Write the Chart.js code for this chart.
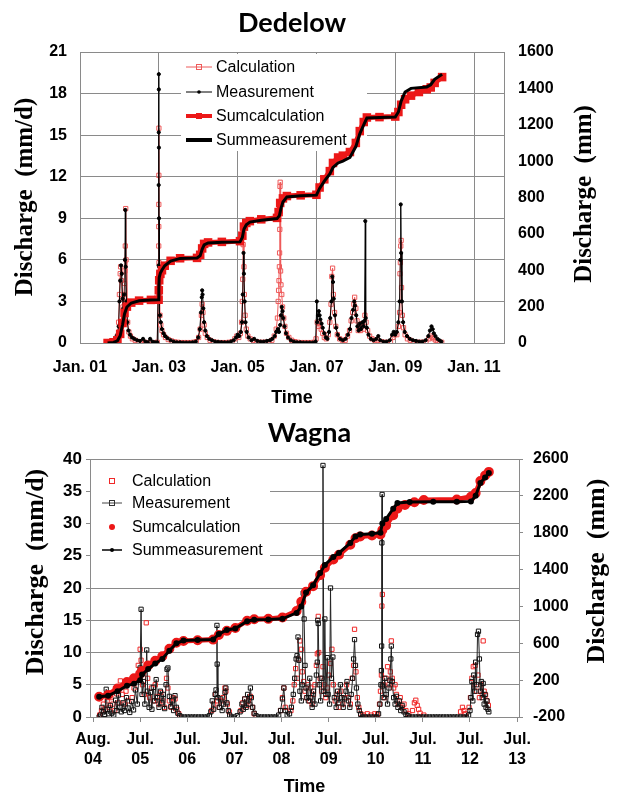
<!DOCTYPE html>
<html>
<head>
<meta charset="utf-8">
<title>Discharge Dedelow / Wagna</title>
<script src="https://cdn.jsdelivr.net/npm/chart.js@4.4.1/dist/chart.umd.min.js"></script>
<style>
  html, body { margin: 0; padding: 0; background: #fff; }
  #wrap { position: relative; width: 619px; height: 796px; }
  canvas { position: absolute; left: 0; }
  #dedelow { top: 0; }
  #wagna { top: 420px; }
</style>
</head>
<body>
<div id="wrap">
  <canvas id="dedelow" width="619" height="420"></canvas>
  <canvas id="wagna" width="619" height="376"></canvas>
</div>
<script>
// Discharge charts: daily values (mm/d, left axis) and cumulative sums (mm, right axis)

const seriesNames = ['Calculation', 'Measurement', 'Sumcalculation', 'Summeasurement'];

// ---------- Dedelow (x in decimal years) ----------
const dedXTicks = [2001, 2003, 2005, 2007, 2009, 2011];
const dedXLabels = ['Jan. 01', 'Jan. 03', 'Jan. 05', 'Jan. 07', 'Jan. 09', 'Jan. 11'];
const dedLeftTicks = [0, 3, 6, 9, 12, 15, 18, 21];
const dedRightTicks = [0, 200, 400, 600, 800, 1000, 1200, 1400, 1600];

const dedMeas = [
  [2001.72,0.05],[2001.78,0.1],[2001.84,0.2],[2001.9,0.4],[2001.95,0.6],[2001.98,1.2],[2002.0,3.0],[2002.02,4.5],
  [2002.04,5.6],[2002.06,5.0],[2002.08,3.2],[2002.1,2.5],[2002.12,3.5],[2002.14,6.0],[2002.15,9.6],[2002.16,5.5],
  [2002.18,3.0],[2002.2,1.5],[2002.23,0.9],[2002.27,0.6],[2002.32,0.4],[2002.38,0.3],[2002.45,0.2],[2002.52,0.15],
  [2002.6,0.3],[2002.66,0.1],[2002.72,0.05],[2002.78,0.3],[2002.84,0.1],[2002.9,0.05],[2002.96,0.05],
  [2002.995,5.6],[2002.997,11.4],[2002.999,15.2],[2003.0,19.4],[2003.001,18.3],[2003.003,14.1],[2003.005,9.0],
  [2003.008,5.5],[2003.015,3.5],[2003.03,2.0],[2003.05,1.5],[2003.08,1.0],[2003.12,0.7],[2003.16,0.5],[2003.22,0.35],
  [2003.3,0.2],[2003.38,0.1],[2003.46,0.05],[2003.54,0.05],[2003.62,0.03],[2003.7,0.03],[2003.78,0.03],[2003.86,0.05],
  [2003.94,0.1],[2004.0,0.4],[2004.04,1.0],[2004.07,2.2],[2004.09,3.3],[2004.1,3.8],[2004.11,3.5],[2004.13,2.5],
  [2004.15,1.5],[2004.18,0.9],[2004.22,0.5],[2004.28,0.3],[2004.35,0.2],[2004.43,0.1],[2004.51,0.08],[2004.59,0.06],
  [2004.67,0.05],[2004.75,0.05],[2004.83,0.1],[2004.9,0.2],[2004.96,0.4],[2005.0,0.6],[2005.04,0.5],[2005.08,0.8],
  [2005.11,1.5],[2005.13,3.5],[2005.15,6.5],[2005.16,5.0],[2005.18,3.0],[2005.2,1.5],[2005.23,0.8],[2005.28,0.4],
  [2005.35,0.2],[2005.42,0.3],[2005.5,0.15],[2005.58,0.1],[2005.66,0.1],[2005.74,0.15],[2005.82,0.2],[2005.88,0.3],
  [2005.94,0.5],[2005.98,0.8],[2006.02,1.0],[2006.05,0.8],[2006.08,1.3],[2006.1,2.0],[2006.12,2.6],[2006.14,2.3],
  [2006.16,1.8],[2006.19,1.2],[2006.23,0.7],[2006.28,0.4],[2006.35,0.2],[2006.43,0.1],[2006.51,0.05],[2006.59,0.05],
  [2006.67,0.03],[2006.75,0.03],[2006.83,0.03],[2006.91,0.03],[2006.98,0.1],[2007.01,3.0],[2007.02,1.5],[2007.04,2.0],
  [2007.06,2.3],[2007.08,2.0],[2007.1,1.7],[2007.13,1.4],[2007.16,1.1],[2007.2,0.7],[2007.24,0.4],[2007.28,0.3],
  [2007.32,0.8],[2007.35,1.8],[2007.38,3.0],[2007.4,4.8],[2007.42,4.4],[2007.44,3.2],[2007.47,2.0],[2007.5,1.1],
  [2007.54,0.6],[2007.6,0.3],[2007.67,0.2],[2007.74,0.3],[2007.8,0.6],[2007.85,1.0],[2007.89,1.8],[2007.93,2.4],
  [2007.96,3.0],[2007.98,2.7],[2008.01,2.0],[2008.04,1.2],[2008.07,0.9],[2008.1,1.4],[2008.13,1.0],[2008.17,1.5],
  [2008.2,1.2],[2008.22,1.6],[2008.24,8.8],[2008.25,1.8],[2008.28,1.1],[2008.32,0.6],[2008.38,0.3],[2008.45,0.2],
  [2008.52,0.3],[2008.57,0.5],[2008.62,0.2],[2008.7,0.1],[2008.78,0.1],[2008.86,0.2],[2008.92,0.6],[2008.96,0.8],
  [2009.0,0.6],[2009.04,0.8],[2009.08,1.5],[2009.11,3.0],[2009.13,6.0],[2009.14,10.0],[2009.15,6.5],[2009.17,3.0],
  [2009.2,1.5],[2009.24,0.8],[2009.3,0.5],[2009.37,0.3],[2009.45,0.2],[2009.53,0.15],[2009.61,0.1],[2009.69,0.1],
  [2009.77,0.2],[2009.84,0.5],[2009.88,0.9],[2009.92,1.2],[2009.95,1.0],[2009.98,0.7],[2010.02,0.5],[2010.07,0.3],
  [2010.12,0.2],[2010.17,0.1]
];

const dedCalc = [
  [2001.72,0.02],[2001.78,0.05],[2001.84,0.1],[2001.9,0.2],[2001.95,0.5],[2001.98,1.5],[2002.0,3.5],[2002.02,5.0],
  [2002.03,5.5],[2002.05,4.5],[2002.07,3.2],[2002.09,2.6],[2002.11,3.5],[2002.13,4.3],[2002.14,5.2],[2002.15,7.0],
  [2002.16,9.7],[2002.17,6.0],[2002.19,3.0],[2002.21,1.5],[2002.24,0.8],[2002.28,0.5],[2002.33,0.3],[2002.4,0.2],
  [2002.48,0.1],[2002.56,0.05],[2002.64,0.05],[2002.72,0.03],[2002.8,0.03],[2002.88,0.03],[2002.96,0.05],
  [2002.996,5.0],[2002.998,7.0],[2002.999,8.4],[2003.0,10.0],[2003.001,12.1],[2003.002,15.5],[2003.004,5.8],
  [2003.007,4.8],[2003.015,3.2],[2003.03,2.0],[2003.05,1.3],[2003.08,0.9],[2003.12,0.6],[2003.17,0.4],[2003.24,0.25],
  [2003.32,0.15],[2003.4,0.08],[2003.48,0.05],[2003.56,0.03],[2003.64,0.03],[2003.72,0.03],[2003.8,0.03],[2003.88,0.05],
  [2003.95,0.1],[2004.01,0.4],[2004.05,1.0],[2004.08,2.0],[2004.1,2.8],[2004.12,2.2],[2004.15,1.3],[2004.18,0.7],
  [2004.23,0.4],[2004.3,0.2],[2004.38,0.1],[2004.46,0.05],[2004.54,0.03],[2004.62,0.03],[2004.7,0.03],[2004.78,0.05],
  [2004.86,0.1],[2004.93,0.3],[2004.98,0.5],[2005.03,0.4],[2005.07,0.7],[2005.1,1.5],[2005.12,3.0],[2005.13,4.6],
  [2005.14,7.1],[2005.16,5.5],[2005.17,3.5],[2005.19,2.0],[2005.22,1.0],[2005.26,0.5],[2005.32,0.3],[2005.4,0.2],
  [2005.48,0.1],[2005.56,0.05],[2005.64,0.05],[2005.72,0.05],[2005.8,0.1],[2005.87,0.2],[2005.93,0.5],[2005.98,1.0],
  [2006.01,1.8],[2006.03,3.0],[2006.04,3.8],[2006.05,4.5],[2006.06,5.5],[2006.065,6.5],[2006.07,8.2],[2006.075,11.3],
  [2006.08,11.6],[2006.085,9.5],[2006.09,5.2],[2006.1,4.2],[2006.12,3.5],[2006.14,2.6],[2006.17,1.8],[2006.2,1.2],
  [2006.24,0.7],[2006.3,0.4],[2006.37,0.2],[2006.45,0.1],[2006.53,0.05],[2006.61,0.03],[2006.69,0.03],[2006.77,0.03],
  [2006.85,0.03],[2006.93,0.05],[2006.99,0.3],[2007.02,1.5],[2007.05,1.2],[2007.08,1.4],[2007.12,1.0],[2007.16,0.7],
  [2007.2,0.4],[2007.25,0.3],[2007.3,0.6],[2007.34,1.5],[2007.37,2.8],[2007.39,4.8],[2007.41,5.4],[2007.43,3.5],
  [2007.46,2.2],[2007.49,1.2],[2007.53,0.6],[2007.59,0.3],[2007.66,0.2],[2007.73,0.2],[2007.79,0.5],[2007.84,0.9],
  [2007.88,1.6],[2007.92,2.2],[2007.95,2.8],[2007.97,3.3],[2008.0,2.5],[2008.03,1.6],[2008.06,0.9],[2008.09,1.2],
  [2008.12,0.9],[2008.16,1.4],[2008.2,1.0],[2008.23,2.0],[2008.26,1.5],[2008.3,0.9],[2008.35,0.5],[2008.41,0.3],
  [2008.48,0.2],[2008.56,0.2],[2008.64,0.1],[2008.72,0.05],[2008.8,0.05],[2008.88,0.1],[2008.94,0.4],[2008.99,0.6],
  [2009.04,0.6],[2009.08,1.2],[2009.11,2.2],[2009.12,5.0],[2009.13,5.8],[2009.14,7.0],[2009.15,7.4],[2009.16,4.0],
  [2009.18,2.0],[2009.21,1.1],[2009.25,0.6],[2009.31,0.3],[2009.38,0.2],[2009.46,0.1],[2009.54,0.05],[2009.62,0.05],
  [2009.7,0.05],[2009.78,0.1],[2009.85,0.3],[2009.9,0.5],[2009.94,0.4],[2009.98,0.3],[2010.03,0.2],[2010.08,0.1],
  [2010.13,0.05],[2010.18,0.05]
];

const dedSumMeas = [
  [2001.70,0],[2001.85,3],[2001.95,12],[2002.02,40],[2002.08,100],[2002.13,160],[2002.19,198],[2002.3,220],
  [2002.5,232],[2002.8,237],[2002.995,238],[2003.0,300],[2003.01,360],[2003.04,385],[2003.08,401],[2003.15,425],
  [2003.3,450],[2003.54,465],[2003.97,467],[2004.05,480],[2004.1,515],[2004.15,540],[2004.25,550],[2004.6,554],
  [2005.06,556],[2005.12,580],[2005.16,625],[2005.22,650],[2005.31,665],[2005.6,675],[2006.0,684],[2006.06,700],
  [2006.1,740],[2006.15,775],[2006.25,803],[2006.6,810],[2007.0,813],[2007.08,850],[2007.2,890],[2007.34,930],
  [2007.42,965],[2007.55,990],[2007.67,1000],[2007.85,1020],[2008.0,1080],[2008.1,1150],[2008.2,1200],[2008.28,1237],
  [2008.6,1240],[2009.0,1242],[2009.08,1270],[2009.15,1330],[2009.25,1380],[2009.4,1400],[2009.8,1408],[2009.9,1420],
  [2010.0,1450],[2010.19,1478]
];

const dedSumCalc = [
  [2001.70,0],[2001.85,4],[2001.95,15],[2002.02,50],[2002.08,110],[2002.13,165],[2002.19,200],[2002.3,222],
  [2002.5,233],[2002.8,237],[2002.995,238],[2003.0,290],[2003.01,345],[2003.04,380],[2003.08,400],[2003.15,425],
  [2003.3,452],[2003.54,466],[2003.97,468],[2004.05,485],[2004.1,520],[2004.15,545],[2004.25,553],[2004.6,556],
  [2005.06,560],[2005.12,590],[2005.16,640],[2005.22,660],[2005.31,670],[2005.6,680],[2006.0,688],[2006.04,720],
  [2006.08,770],[2006.15,795],[2006.25,808],[2006.6,812],[2007.0,815],[2007.08,855],[2007.2,900],[2007.34,945],
  [2007.42,990],[2007.55,1020],[2007.67,1030],[2007.85,1050],[2008.0,1100],[2008.1,1165],[2008.2,1215],[2008.28,1240],
  [2008.6,1242],[2009.0,1245],[2009.08,1270],[2009.15,1310],[2009.25,1340],[2009.4,1360],[2009.6,1380],[2009.8,1395],
  [2009.9,1405],[2010.0,1430],[2010.19,1462]
];

// ---------- Wagna (x in decimal years, ticks one year apart from Aug. 2004) ----------
const wagXTicks = [2004.58, 2005.58, 2006.58, 2007.58, 2008.58, 2009.58, 2010.58, 2011.58, 2012.58, 2013.58];
const wagXLabels = [['Aug.', '04'], ['Jul.', '05'], ['Jul.', '06'], ['Jul.', '07'], ['Jul.', '08'],
                    ['Jul.', '09'], ['Jul.', '10'], ['Jul.', '11'], ['Jul.', '12'], ['Jul.', '13']];
const wagLeftTicks = [0, 5, 10, 15, 20, 25, 30, 35, 40];
const wagRightTicks = [-200, 200, 600, 1000, 1400, 1800, 2200, 2600];

const wagMeas = [
  [2004.71,0],[2004.74,0.3],[2004.77,1.5],[2004.8,0.8],[2004.83,0.4],[2004.86,4.3],[2004.88,1.2],[2004.91,0.5],
  [2004.95,1.8],[2004.98,0.6],[2005.02,0.3],[2005.06,2.6],[2005.09,1.0],[2005.12,3.4],[2005.15,1.5],[2005.18,0.8],
  [2005.22,2.2],[2005.25,1.0],[2005.29,3.0],[2005.32,1.4],[2005.36,0.7],[2005.4,2.4],[2005.44,1.1],[2005.48,4.2],
  [2005.52,2.0],[2005.55,6.0],[2005.58,7.6],[2005.6,16.7],[2005.62,3.5],[2005.65,5.5],[2005.68,2.0],[2005.72,10.4],
  [2005.74,4.0],[2005.77,1.5],[2005.8,3.8],[2005.83,1.2],[2005.86,4.6],[2005.89,2.5],[2005.92,5.8],[2005.95,3.0],
  [2005.98,1.5],[2006.01,4.0],[2006.04,2.2],[2006.07,3.5],[2006.1,1.3],[2006.13,5.0],[2006.15,7.4],[2006.17,7.6],
  [2006.2,3.2],[2006.23,1.6],[2006.26,2.5],[2006.29,1.0],[2006.32,3.3],[2006.35,1.5],[2006.38,0.6],[2006.42,0.2],
  [2006.46,0],[2006.52,0],[2006.58,0],[2006.64,0],[2006.7,0],[2006.76,0],[2006.82,0],[2006.88,0],[2006.94,0],
  [2007.0,0],[2007.05,0.2],[2007.08,0.8],[2007.11,2.5],[2007.14,1.2],[2007.17,3.5],[2007.19,4.2],[2007.21,14.2],
  [2007.215,8.2],[2007.23,3.0],[2007.26,1.5],[2007.29,2.8],[2007.32,1.0],[2007.35,2.0],[2007.38,3.8],[2007.4,4.5],
  [2007.42,2.2],[2007.45,1.0],[2007.48,0.3],[2007.52,0],[2007.58,0],[2007.64,0.2],[2007.7,0.8],[2007.74,2.0],
  [2007.77,1.2],[2007.8,2.8],[2007.83,1.5],[2007.86,3.5],[2007.89,2.0],[2007.92,4.5],[2007.94,3.0],[2007.97,1.5],
  [2008.0,0.6],[2008.04,0.2],[2008.1,0],[2008.16,0],[2008.22,0],[2008.28,0],[2008.34,0],[2008.4,0],[2008.46,0],
  [2008.52,0.3],[2008.56,1.0],[2008.6,2.8],[2008.63,4.5],[2008.66,1.0],[2008.7,0.3],[2008.75,0.5],[2008.79,1.5],
  [2008.83,3.5],[2008.86,6.0],[2008.89,9.0],[2008.91,9.5],[2008.93,12.4],[2008.95,8.8],[2008.97,4.0],[2009.0,2.5],
  [2009.02,5.0],[2009.04,19.2],[2009.06,15.2],[2009.08,8.0],[2009.1,4.5],[2009.12,3.0],[2009.15,2.5],[2009.18,6.0],
  [2009.2,3.0],[2009.23,1.5],[2009.26,4.0],[2009.29,2.0],[2009.32,6.5],[2009.34,8.5],[2009.35,15.0],[2009.36,14.5],
  [2009.38,5.0],[2009.41,2.5],[2009.44,6.0],[2009.46,39.0],[2009.48,4.0],[2009.5,15.2],[2009.52,3.5],[2009.55,9.2],
  [2009.57,3.5],[2009.6,2.0],[2009.62,20.0],[2009.64,6.0],[2009.67,9.3],[2009.7,3.0],[2009.74,1.5],[2009.77,4.0],
  [2009.8,2.2],[2009.83,5.0],[2009.86,3.0],[2009.89,1.5],[2009.92,2.8],[2009.95,4.0],[2009.97,5.5],[2010.0,2.5],
  [2010.03,1.5],[2010.06,3.5],[2010.09,6.0],[2010.11,9.0],[2010.13,12.0],[2010.15,8.0],[2010.17,4.5],[2010.2,2.0],
  [2010.23,1.0],[2010.26,0.4],[2010.3,0],[2010.36,0],[2010.42,0],[2010.48,0],[2010.54,0],[2010.6,0],[2010.64,0.5],
  [2010.67,2.0],[2010.69,5.0],[2010.7,7.2],[2010.705,11.0],[2010.71,27.0],[2010.715,34.5],[2010.72,4.8],[2010.74,3.0],
  [2010.77,6.0],[2010.8,3.5],[2010.83,2.0],[2010.86,4.5],[2010.88,5.7],[2010.9,9.0],[2010.91,11.0],[2010.93,5.5],
  [2010.96,3.0],[2010.99,2.0],[2011.02,3.2],[2011.05,1.5],[2011.08,2.5],[2011.11,1.0],[2011.14,1.8],[2011.18,0.8],
  [2011.22,0.4],[2011.26,0.2],[2011.3,0],[2011.36,0],[2011.42,0],[2011.48,0],[2011.54,0],[2011.6,0],[2011.66,0],
  [2011.72,0],[2011.78,0],[2011.84,0],[2011.9,0],[2011.96,0],[2012.02,0],[2012.08,0],[2012.14,0],[2012.2,0],
  [2012.26,0],[2012.32,0],[2012.38,0],[2012.44,0],[2012.5,0],[2012.55,0.3],[2012.58,1.0],[2012.6,3.0],[2012.62,5.5],
  [2012.64,2.5],[2012.66,6.5],[2012.68,4.0],[2012.7,8.5],[2012.72,5.0],[2012.74,12.8],[2012.76,13.3],[2012.78,9.0],
  [2012.8,4.0],[2012.82,5.5],[2012.84,3.0],[2012.86,5.2],[2012.88,2.0],[2012.9,3.5],[2012.92,1.5],[2012.94,2.5],
  [2012.96,1.2],[2012.98,0.8]
];

const wagCalc = [
  [2004.72,0.3],[2004.76,1.0],[2004.8,2.0],[2004.84,1.2],[2004.88,2.5],[2004.92,1.5],[2004.96,3.0],[2005.0,2.0],
  [2005.04,1.0],[2005.08,3.6],[2005.12,2.2],[2005.16,5.6],[2005.2,3.5],[2005.24,2.0],[2005.28,4.0],[2005.32,2.5],
  [2005.37,5.5],[2005.41,3.0],[2005.45,4.5],[2005.5,6.0],[2005.54,8.0],[2005.58,10.5],[2005.6,8.8],[2005.63,5.0],
  [2005.67,3.5],[2005.71,14.6],[2005.74,6.0],[2005.78,3.0],[2005.82,4.5],[2005.86,2.5],[2005.9,5.0],[2005.94,3.2],
  [2005.98,2.0],[2006.02,3.8],[2006.06,2.5],[2006.1,1.5],[2006.14,6.0],[2006.17,4.5],[2006.2,2.5],[2006.24,1.5],
  [2006.28,3.0],[2006.32,2.8],[2006.36,1.2],[2006.4,0.5],
  [2007.1,1.0],[2007.14,2.0],[2007.18,3.5],[2007.22,2.5],[2007.26,1.5],[2007.3,2.5],[2007.34,3.0],[2007.38,4.5],
  [2007.4,4.0],[2007.43,2.0],[2007.47,0.8],
  [2007.72,1.0],[2007.76,2.2],[2007.8,2.8],[2007.84,1.8],[2007.88,2.5],[2007.92,3.2],[2007.96,1.5],[2008.0,0.5],
  [2008.56,1.0],[2008.6,3.0],[2008.63,4.5],[2008.66,1.5],
  [2008.78,1.0],[2008.82,2.5],[2008.85,5.0],[2008.88,7.5],[2008.91,6.0],[2008.94,9.0],[2008.97,11.8],[2009.0,10.5],
  [2009.02,7.0],[2009.05,5.5],[2009.08,4.0],[2009.11,3.0],[2009.14,5.0],[2009.17,2.5],[2009.2,4.5],[2009.23,2.0],
  [2009.26,3.5],[2009.29,5.0],[2009.32,8.0],[2009.34,9.8],[2009.36,15.6],[2009.37,10.0],[2009.4,6.0],[2009.43,4.0],
  [2009.46,7.8],[2009.49,5.0],[2009.52,3.0],[2009.55,4.5],[2009.58,6.5],[2009.62,8.3],[2009.65,10.5],[2009.68,5.0],
  [2009.72,2.5],[2009.76,3.5],[2009.8,1.5],[2009.84,4.0],[2009.88,2.0],[2009.92,3.0],[2009.96,5.0],[2010.0,3.0],
  [2010.04,2.0],[2010.08,6.0],[2010.11,8.0],[2010.13,13.6],[2010.16,7.0],[2010.19,3.0],[2010.22,1.5],[2010.26,0.5],
  [2010.32,0.3],[2010.4,0.5],[2010.48,0.3],[2010.56,0.5],[2010.62,0.4],
  [2010.66,2.0],[2010.68,4.0],[2010.7,6.5],[2010.71,17.2],[2010.72,19.0],[2010.74,5.0],[2010.77,3.0],[2010.8,6.0],
  [2010.83,7.8],[2010.86,5.0],[2010.89,7.0],[2010.91,11.8],[2010.93,6.0],[2010.96,4.5],[2010.99,5.0],[2011.02,3.5],
  [2011.06,2.0],[2011.1,3.0],[2011.14,1.5],[2011.18,2.0],[2011.22,1.0],[2011.28,0.5],
  [2011.36,1.0],[2011.4,2.2],[2011.43,2.6],[2011.46,1.8],[2011.49,1.2],[2011.52,0.6],[2011.6,0.3],
  [2012.38,0.8],[2012.42,1.5],[2012.45,1.0],[2012.48,0.5],
  [2012.56,1.5],[2012.59,3.0],[2012.62,6.0],[2012.65,7.8],[2012.67,5.0],[2012.69,8.0],[2012.72,4.0],[2012.75,6.5],
  [2012.78,3.0],[2012.81,5.0],[2012.84,3.5],[2012.86,11.8],[2012.88,4.0],[2012.91,3.4],[2012.94,2.5],[2012.97,1.8]
];

const wagSumMeas = [
  [2004.71,20],[2004.9,30],[2005.1,80],[2005.3,140],[2005.45,160],[2005.58,200],[2005.62,260],[2005.75,320],
  [2005.9,380],[2006.05,430],[2006.2,520],[2006.35,600],[2006.5,630],[2006.8,635],[2007.13,640],[2007.25,700],
  [2007.42,745],[2007.6,760],[2007.85,840],[2008.0,855],[2008.3,858],[2008.6,865],[2008.9,930],[2009.0,1000],
  [2009.1,1150],[2009.25,1230],[2009.4,1363],[2009.5,1450],[2009.68,1537],[2009.8,1580],[2010.04,1688],
  [2010.15,1760],[2010.25,1780],[2010.5,1790],[2010.68,1800],[2010.72,1900],[2010.8,1950],[2010.95,2060],
  [2011.04,2122],[2011.3,2134],[2011.8,2135],[2012.3,2136],[2012.6,2140],[2012.7,2200],[2012.8,2340],
  [2012.9,2400],[2012.98,2448]
];

const wagSumCalc = [
  [2004.71,20],[2004.9,40],[2005.1,110],[2005.3,180],[2005.45,220],[2005.58,270],[2005.62,300],[2005.75,360],
  [2005.9,410],[2006.05,460],[2006.2,540],[2006.35,605],[2006.5,625],[2006.8,632],[2007.13,640],[2007.25,690],
  [2007.42,735],[2007.6,765],[2007.85,845],[2008.0,860],[2008.3,865],[2008.6,880],[2008.9,950],[2009.0,1050],
  [2009.1,1160],[2009.25,1220],[2009.4,1340],[2009.5,1420],[2009.68,1510],[2009.8,1560],[2010.04,1670],
  [2010.15,1740],[2010.25,1760],[2010.5,1770],[2010.68,1780],[2010.72,1830],[2010.8,1880],[2010.95,1990],
  [2011.04,2060],[2011.2,2100],[2011.4,2130],[2011.6,2155],[2012.3,2160],[2012.6,2190],[2012.7,2230],
  [2012.8,2360],[2012.9,2420],[2012.98,2460]
];

// ---------- styling ----------
const RED_LIGHT = 'rgb(238,90,90)';
const RED = 'rgb(236,24,24)';
const BLACK = '#000';
const GRID = '#8a8a8a';
const SANS = '"Liberation Sans", Arial, sans-serif';
const SERIF = '"Liberation Serif", "Times New Roman", serif';

Chart.defaults.color = '#000';
Chart.defaults.font.family = SANS;

const toXY = arr => arr.map(([x, y]) => ({ x, y }));
const plain = v => String(v);   // no thousands separator on the axes

function drawMarker(ctx, m, x, y) {
  ctx.save();
  ctx.lineWidth = 1;
  ctx.strokeStyle = m.color;
  ctx.fillStyle = m.color;
  if (m.style === 'rect') {
    if (m.fill) ctx.fillRect(x - m.r, y - m.r, m.r * 2, m.r * 2);
    else ctx.strokeRect(x - m.r + 0.5, y - m.r + 0.5, m.r * 2 - 1, m.r * 2 - 1);
  } else {
    ctx.beginPath();
    ctx.arc(x, y, m.r, 0, Math.PI * 2);
    ctx.fill();
  }
  ctx.restore();
}

// white legend box drawn over the grid, then the four entries
const legendBox = {
  id: 'legendBox',
  beforeDatasetsDraw(chart, args, opts) {
    const ctx = chart.ctx;
    const [bx, by, bw, bh] = opts.box;
    ctx.save();
    ctx.fillStyle = '#fff';
    ctx.fillRect(bx, by, bw, bh);
    ctx.font = opts.font;
    ctx.textBaseline = 'middle';
    opts.items.forEach((it, i) => {
      if (it.line) {
        ctx.strokeStyle = it.line.color;
        ctx.lineWidth = it.line.width;
        ctx.beginPath();
        ctx.moveTo(opts.lineX[0], it.y);
        ctx.lineTo(opts.lineX[1], it.y);
        ctx.stroke();
      }
      if (it.marker) drawMarker(ctx, it.marker, opts.markX, it.y);
      ctx.fillStyle = '#000';
      ctx.fillText(seriesNames[i], opts.textX, it.y + 1);
    });
    ctx.restore();
  }
};

// rotated side titles
const sideTitles = {
  id: 'sideTitles',
  afterDraw(chart, args, opts) {
    const ctx = chart.ctx;
    opts.items.forEach(t => {
      ctx.save();
      ctx.translate(t.x, t.y);
      ctx.rotate(-Math.PI / 2);
      ctx.font = opts.font;
      ctx.fillStyle = '#000';
      ctx.textAlign = 'center';
      ctx.textBaseline = 'middle';
      ctx.fillText(t.text, 0, 0);
      ctx.restore();
    });
  }
};

function fixedTicks(values) {
  return scale => { scale.ticks = values.map(v => ({ value: v })); };
}

// ---------- Dedelow chart ----------
new Chart(document.getElementById('dedelow'), {
  type: 'scatter',
  data: {
    datasets: [
      { label: seriesNames[3], data: toXY(dedSumMeas), yAxisID: 'y2', showLine: true, order: 1,
        borderColor: BLACK, borderWidth: 3, pointRadius: 0 },
      { label: seriesNames[2], data: toXY(dedSumCalc), yAxisID: 'y2', showLine: true, order: 2,
        borderColor: RED, borderWidth: 5, pointStyle: 'rect', pointRadius: 2.5,
        pointBackgroundColor: RED, pointBorderColor: RED },
      { label: seriesNames[1], data: toXY(dedMeas), yAxisID: 'y', showLine: true, order: 3,
        borderColor: BLACK, borderWidth: 1, pointRadius: 1.6,
        pointBackgroundColor: BLACK, pointBorderColor: BLACK },
      { label: seriesNames[0], data: toXY(dedCalc), yAxisID: 'y', showLine: true, order: 4,
        borderColor: RED_LIGHT, borderWidth: 1, pointStyle: 'rect', pointRadius: 3,
        pointBackgroundColor: 'rgba(255,255,255,0)', pointBorderColor: RED_LIGHT, pointBorderWidth: 1 }
    ]
  },
  options: {
    responsive: false,
    animation: false,
    layout: { padding: 0 },
    elements: { line: { tension: 0 } },
    plugins: {
      legend: { display: false },
      tooltip: { enabled: false },
      title: {
        display: true, text: 'Dedelow', fullSize: false,
        font: { family: 'Lato, "Open Sans", sans-serif', size: 27, weight: 'bold', lineHeight: 1 },
        padding: { top: 10, bottom: 15 }
      },
      legendBox: {
        box: [181, 54, 186, 97], font: '16px ' + SANS, lineX: [186, 212], markX: 199, textX: 216,
        items: [
          { y: 67, line: { color: RED_LIGHT, width: 1 }, marker: { style: 'rect', r: 3, color: RED_LIGHT, fill: false } },
          { y: 92, line: { color: BLACK, width: 1 }, marker: { style: 'circle', r: 1.8, color: BLACK } },
          { y: 116, line: { color: RED, width: 4 }, marker: { style: 'rect', r: 3, color: RED, fill: true } },
          { y: 140, line: { color: BLACK, width: 4 } }
        ]
      },
      sideTitles: {
        font: 'bold 25px ' + SERIF,
        items: [
          { text: 'Discharge  (mm/d)', x: 26, y: 197 },
          { text: 'Discharge  (mm)', x: 585, y: 194 }
        ]
      }
    },
    scales: {
      x: {
        type: 'linear', min: 2001, max: 2011.76,
        afterBuildTicks: fixedTicks(dedXTicks),
        afterFit: s => { s.height = 77; },
        grid: { color: GRID, drawTicks: false },
        border: { color: GRID },
        ticks: { autoSkip: false, maxRotation: 0, padding: 15,
                 font: { size: 16, weight: 'bold' },
                 callback: (v, i) => dedXLabels[i] },
        title: { display: true, text: 'Time', font: { size: 18, weight: 'bold' }, padding: { top: 0, bottom: 11 } }
      },
      y: {
        position: 'left', min: 0, max: 21,
        afterBuildTicks: fixedTicks(dedLeftTicks),
        afterFit: s => { s.width = 80; },
        grid: { color: GRID, drawTicks: false },
        border: { color: GRID },
        ticks: { padding: 13, font: { size: 16, weight: 'bold' }, callback: plain }
      },
      y2: {
        position: 'right', min: 0, max: 1600,
        afterBuildTicks: fixedTicks(dedRightTicks),
        afterFit: s => { s.width = 115; },
        grid: { drawOnChartArea: false, drawTicks: false },
        border: { color: GRID },
        ticks: { padding: 14, font: { size: 16, weight: 'bold' }, callback: plain }
      }
    }
  },
  plugins: [legendBox, sideTitles]
});

// ---------- Wagna chart ----------
new Chart(document.getElementById('wagna'), {
  type: 'scatter',
  data: {
    datasets: [
      { label: seriesNames[3], data: toXY(wagSumMeas), yAxisID: 'y2', showLine: true, order: 1,
        borderColor: BLACK, borderWidth: 3, pointRadius: 1.5,
        pointBackgroundColor: BLACK, pointBorderColor: BLACK },
      { label: seriesNames[2], data: toXY(wagSumCalc), yAxisID: 'y2', showLine: true, order: 2,
        borderColor: RED, borderWidth: 5, pointRadius: 2.5,
        pointBackgroundColor: RED, pointBorderColor: RED },
      { label: seriesNames[1], data: toXY(wagMeas), yAxisID: 'y', showLine: true, order: 3,
        borderColor: '#222', borderWidth: 1, pointStyle: 'rect', pointRadius: 3,
        pointBackgroundColor: 'rgba(255,255,255,0)', pointBorderColor: '#111', pointBorderWidth: 1 },
      { label: seriesNames[0], data: toXY(wagCalc), yAxisID: 'y', showLine: false, order: 4,
        pointStyle: 'rect', pointRadius: 3,
        pointBackgroundColor: 'rgba(255,255,255,0)', pointBorderColor: 'rgb(240,40,40)', pointBorderWidth: 1 }
    ]
  },
  options: {
    responsive: false,
    animation: false,
    layout: { padding: 0 },
    elements: { line: { tension: 0 } },
    plugins: {
      legend: { display: false },
      tooltip: { enabled: false },
      title: {
        display: true, text: 'Wagna',
        font: { family: 'Lato, "Open Sans", sans-serif', size: 27, weight: 'bold', lineHeight: 1 },
        padding: { top: 0, bottom: 12 }
      },
      legendBox: {
        box: [91, 41, 179, 110], font: '16px ' + SANS, lineX: [102, 122], markX: 112, textX: 132,
        items: [
          { y: 61, marker: { style: 'rect', r: 3, color: 'rgb(240,40,40)', fill: false } },
          { y: 83, line: { color: '#444', width: 1 }, marker: { style: 'rect', r: 3, color: '#333', fill: false } },
          { y: 107, marker: { style: 'circle', r: 3, color: RED } },
          { y: 130, line: { color: BLACK, width: 1.5 }, marker: { style: 'circle', r: 2, color: BLACK } }
        ]
      },
      sideTitles: {
        font: 'bold 26px ' + SERIF,
        items: [
          { text: 'Discharge  (mm/d)', x: 36, y: 152 },
          { text: 'Discharge  (mm)', x: 597, y: 151 }
        ]
      }
    },
    scales: {
      x: {
        type: 'linear', min: 2004.516, max: 2013.62,
        afterBuildTicks: fixedTicks(wagXTicks),
        afterFit: s => { s.height = 79; },
        grid: { drawOnChartArea: false, drawTicks: true, tickLength: 5, color: GRID },
        border: { color: GRID },
        ticks: { autoSkip: false, maxRotation: 0, padding: 8,
                 font: { size: 16, weight: 'bold', lineHeight: 1.25 },
                 callback: (v, i) => wagXLabels[i] },
        title: { display: true, text: 'Time', font: { size: 18, weight: 'bold', lineHeight: 1 }, padding: { top: 0, bottom: 0 } }
      },
      y: {
        position: 'left', min: 0, max: 40,
        afterBuildTicks: fixedTicks(wagLeftTicks),
        afterFit: s => { s.width = 90; },
        grid: { color: GRID, drawTicks: true, tickLength: 4 },
        border: { color: GRID },
        ticks: { padding: 4, font: { size: 17, weight: 'bold' }, callback: plain }
      },
      y2: {
        position: 'right', min: -200, max: 2600,
        afterBuildTicks: fixedTicks(wagRightTicks),
        afterFit: s => { s.width = 100; },
        grid: { drawOnChartArea: false, drawTicks: true, tickLength: 4, color: GRID },
        border: { color: GRID },
        ticks: { padding: 10, font: { size: 16, weight: 'bold' }, callback: plain }
      }
    }
  },
  plugins: [legendBox, sideTitles]
});
</script>
</body>
</html>
